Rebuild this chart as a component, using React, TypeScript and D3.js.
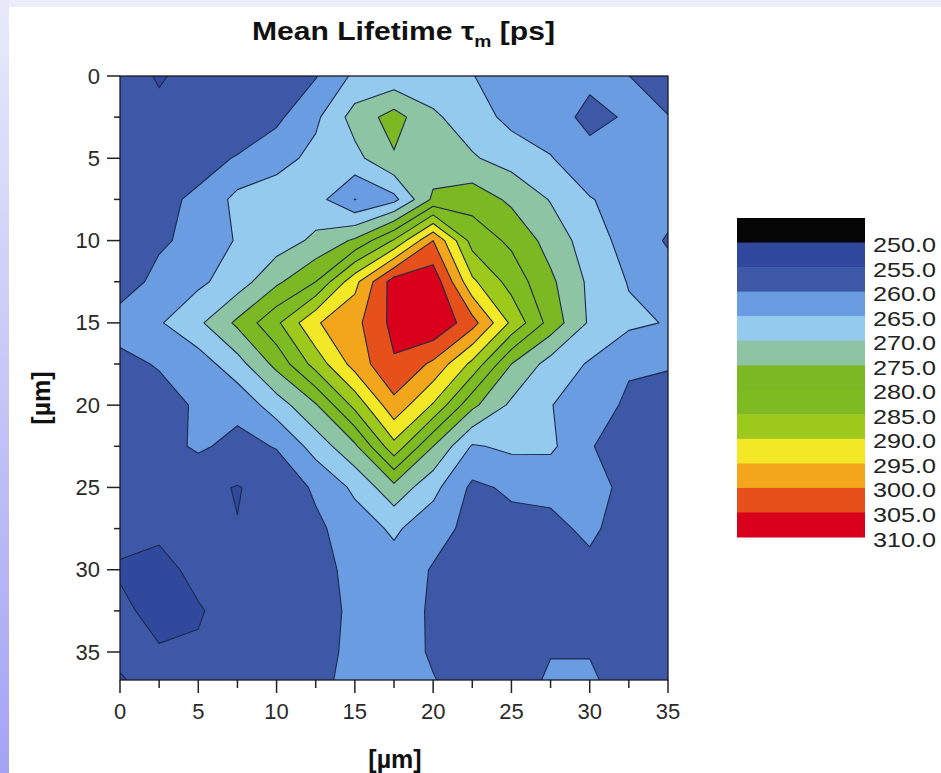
import React from 'react';
import * as d3 from 'd3';

// grid coordinates (µm)
const xGrid = [0, 2.5, 5, 7.5, 10, 12.5, 15, 17.5, 20, 22.5, 25, 27.5, 30, 32.5, 35];
const yGrid = [0, 2.5, 5, 7.5, 10, 12.5, 15, 17.5, 20, 22.5, 25, 27.5, 30, 32.5, 35, 37.5];

// mean lifetime (ps), one row per y position
const row00 = [257, 254.6, 256.5, 258, 259, 259.7, 266, 266.5, 267, 265.2, 262, 261, 261, 260.05, 257];
const row01 = [256.5, 256, 257, 258, 259, 264, 272, 277, 270.8, 267.5, 263.5, 262, 258.8, 260.5, 260.2];
const row02 = [257.5, 258, 259, 260.2, 263, 266.5, 268.5, 274.5, 272, 270.5, 268, 265.3, 261.5, 262, 261.5];
const row03 = [258, 259.3, 260.5, 266.5, 268, 267, 259.9, 263.5, 276, 278, 274, 269.7, 265.3, 263, 262];
const row04 = [258.5, 259.5, 261, 265.5, 267.5, 271, 275.8, 285.5, 300, 283, 279, 273, 267.5, 263, 259.5];
const row05 = [258.3, 261, 264, 267.5, 274, 280, 293.5, 307.5, 308.5, 291, 283, 276, 269, 264.7, 262];
const row06 = [261.5, 264.5, 269, 276, 284, 294.5, 298.5, 306.5, 309.5, 302, 289, 278, 269.3, 266, 264.7];
const row07 = [259, 260.3, 262.5, 268, 276.5, 287, 297, 304.5, 299, 288.7, 275, 268, 264.5, 260.5, 260.3];
const row08 = [258, 258.5, 260.5, 261.5, 267.5, 274.5, 286.5, 298.5, 289.5, 276.2, 269, 265.2, 262, 259.3, 258.5];
const row09 = [257.5, 258, 260.8, 258.5, 260.3, 267, 274, 288.5, 275, 264.5, 266, 266, 260.2, 258.5, 258];
const row10 = [257, 257, 256, 254.8, 256.5, 260.8, 266, 273.5, 266.5, 259, 260.8, 261, 262, 258.5, 257.5];
const row11 = [256.5, 256, 257, 255.1, 257, 259, 262.5, 265.8, 262, 258.5, 258.5, 259, 260.8, 258, 257];
const row12 = [254.5, 253.5, 256.3, 256.5, 257, 258.8, 261, 263, 259.6, 258, 258, 258.5, 259, 258, 257];
const row13 = [256, 253.5, 254.6, 257, 257.5, 259, 260.5, 262.5, 259.3, 258, 257.5, 258, 258, 257.5, 257];
const row14 = [257, 255.4, 255.5, 257.5, 258, 259, 260.7, 262, 259.5, 258, 258, 259.8, 259.8, 258, 257.5];
const row15 = [253, 257, 257.5, 258, 258, 259, 261.5, 262, 260.5, 258.5, 258.3, 261, 261, 258.5, 257.5];

const lifetimeGrid = [row00, row01, row02, row03, row04, row05, row06, row07, row08, row09, row10, row11, row12, row13, row14, row15];

// contour levels and legend
const levels = [250, 255, 260, 265, 270, 275, 280, 285, 290, 295, 300, 305, 310];
const bandColors = ['#050505', '#30499d', '#3e58a8', '#6a9ce2', '#93caee', '#8cc4a4', '#7bb824', '#7eba22', '#9dc91c', '#f3e826', '#f3a61c', '#e6501a', '#d9001b'];

const xTicks = [0, 5, 10, 15, 20, 25, 30, 35];
const yTicks = [0, 5, 10, 15, 20, 25, 30, 35];
const minorTicks = [2.5, 7.5, 12.5, 17.5, 22.5, 27.5, 32.5];

const FONT = '"Liberation Sans", Arial, Helvetica, sans-serif';

export default function App() {
  const W = 941, H = 773;
  const left = 120, right = 668, top = 76, bottom = 680;
  const x = d3.scaleLinear().domain([0, 35]).range([left, right]);
  const y = d3.scaleLinear().domain([0, 36.7]).range([top, bottom]);

  const nx = xGrid.length, ny = yGrid.length;
  const ix = d3.scaleLinear().domain([0, nx - 1]).range([xGrid[0], xGrid[nx - 1]]);
  const iy = d3.scaleLinear().domain([0, ny - 1]).range([yGrid[0], yGrid[ny - 1]]);
  const proj = d3.geoTransform({
    point: function (px: number, py: number) {
      // @ts-ignore
      this.stream.point(x(ix(px - 0.5)), y(iy(py - 0.5)));
    },
  });
  const path = d3.geoPath(proj);
  const fillLevels = levels.slice(0, 12);
  const contours = d3.contours().size([nx, ny]).thresholds(fillLevels)(lifetimeGrid.flat());

  const legX = 737, legY = 218, legW = 128, bandH = 24.54;

  return (
    <svg width={W} height={H} style={{ position: 'absolute', left: 0, top: 0 }} fontFamily={FONT}>
      <defs>
        <linearGradient id="leftStrip" x1="0" y1="0" x2="0" y2="1">
          <stop offset="0" stopColor="#e9e9fb" />
          <stop offset="1" stopColor="#a3a3f5" />
        </linearGradient>
        <clipPath id="plotClip">
          <rect x={left} y={top} width={right - left} height={bottom - top} />
        </clipPath>
      </defs>
      <rect x={0} y={0} width={W} height={H} fill="#ececfb" />
      <rect x={0} y={0} width={9} height={H} fill="url(#leftStrip)" />
      <rect x={9} y={7} width={W - 9} height={H - 7} fill="#ffffff" />

      <text x={403.5} y={40} textAnchor="middle" fontSize={25} fontWeight="bold" fill="#111"
        textLength={303} lengthAdjust="spacingAndGlyphs">
        Mean Lifetime τ<tspan fontSize={16} dy={7}>m</tspan><tspan dy={-7}> [ps]</tspan>
      </text>

      <g clipPath="url(#plotClip)">
        {contours.map((c, k) => (
          <path key={'f' + k} d={path(c as any) || ''} fill={bandColors[k + 1]} stroke="none" />
        ))}
        {contours.map((c, k) => (
          k === 0 ? null :
          <path key={'s' + k} d={path(c as any) || ''} fill="none" stroke="#1b2a4c" strokeWidth={1.1} strokeLinejoin="round" />
        ))}
      </g>
      <rect x={left} y={top} width={right - left} height={bottom - top} fill="none" stroke="#1a1a22" strokeWidth={1.3} />

      {/* y axis ticks */}
      {yTicks.map((t) => (
        <g key={'yt' + t}>
          <line x1={left - 13} x2={left} y1={y(t)} y2={y(t)} stroke="#222" strokeWidth={1.5} />
          <text x={100} y={y(t)} textAnchor="end" dominantBaseline="central" fontSize={22} fill="#2a2a2a">{t}</text>
        </g>
      ))}
      {minorTicks.map((t) => (
        <line key={'ym' + t} x1={left - 6} x2={left} y1={y(t)} y2={y(t)} stroke="#222" strokeWidth={1.5} />
      ))}
      {/* x axis ticks */}
      {xTicks.map((t) => (
        <g key={'xt' + t}>
          <line x1={x(t)} x2={x(t)} y1={bottom} y2={bottom + 13} stroke="#222" strokeWidth={1.5} />
          <text x={x(t)} y={711} textAnchor="middle" dominantBaseline="central" fontSize={22} fill="#2a2a2a">{t}</text>
        </g>
      ))}
      {minorTicks.map((t) => (
        <line key={'xm' + t} x1={x(t)} x2={x(t)} y1={bottom} y2={bottom + 8} stroke="#222" strokeWidth={1.5} />
      ))}

      <text x={395} y={768} textAnchor="middle" fontSize={25} fontWeight="bold" fill="#111">[µm]</text>
      <text transform="translate(50,398) rotate(-90)" textAnchor="middle" fontSize={25} fontWeight="bold" fill="#111">[µm]</text>

      {/* legend */}
      {bandColors.map((col, k) => (
        <rect key={'lb' + k} x={legX} y={legY + k * bandH} width={legW} height={bandH + 0.5} fill={col} />
      ))}
      {levels.map((lv, k) => (
        <text key={'ll' + k} x={873} y={legY + (k + 1) * bandH + 2} dominantBaseline="central" fontSize={21}
          textLength={63} lengthAdjust="spacingAndGlyphs" fill="#222">
          {lv.toFixed(1)}
        </text>
      ))}
    </svg>
  );
}
